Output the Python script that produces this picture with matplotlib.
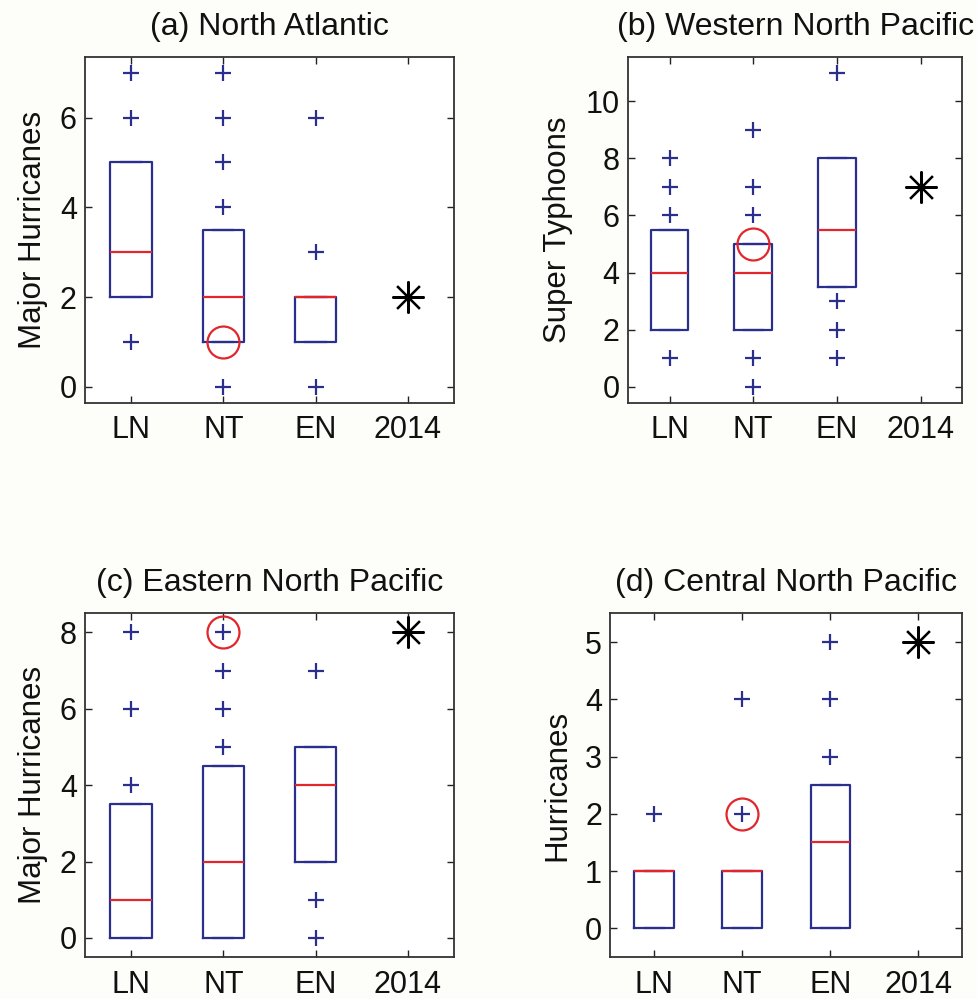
import matplotlib
matplotlib.use("Agg")
import matplotlib.pyplot as plt

plt.rcParams['font.family'] = ['Liberation Sans', 'DejaVu Sans']
plt.rcParams['font.size'] = 20

categories = ['LN', 'NT', 'EN', '2014']

# (a) North Atlantic - major hurricanes
na_q1 = [2, 1, 1]
na_med = [3, 2, 2]
na_q3 = [5, 3.5, 2]
na_fliers = [[1, 6, 7], [0, 4, 5, 6, 7], [0, 3, 6]]
na_2014 = 2
na_circle = ('NT', 1)

# (b) Western North Pacific - super typhoons
wnp_q1 = [2, 2, 3.5]
wnp_med = [4, 4, 5.5]
wnp_q3 = [5.5, 5, 8]
wnp_fliers = [[1, 6, 7, 8], [0, 1, 6, 7, 9], [1, 2, 3, 11]]
wnp_2014 = 7
wnp_circle = ('NT', 5)

# (c) Eastern North Pacific - major hurricanes
enp_q1 = [0, 0, 2]
enp_med = [1, 2, 4]
enp_q3 = [3.5, 4.5, 5]
enp_fliers = [[4, 6, 8], [5, 6, 7, 8], [0, 1, 7]]
enp_2014 = 8
enp_circle = ('NT', 8)

# (d) Central North Pacific - hurricanes
cnp_q1 = [0, 0, 0]
cnp_med = [1, 1, 1.5]
cnp_q3 = [1, 1, 2.5]
cnp_fliers = [[2], [2, 4], [3, 4, 5]]
cnp_2014 = 5
cnp_circle = ('NT', 2)

BLUE = '#2a2f8e'
RED = '#e2262b'

panels = [
    dict(title='(a) North Atlantic', ylabel='Major Hurricanes',
         q1=na_q1, med=na_med, q3=na_q3, fliers=na_fliers, y2014=na_2014, circle=na_circle,
         rect=[0.087, 0.597, 0.377, 0.346], ylim=(-0.35, 7.35), yticks=[0, 2, 4, 6], labx=-0.10),
    dict(title='(b) Western North Pacific', ylabel='Super Typhoons',
         q1=wnp_q1, med=wnp_med, q3=wnp_q3, fliers=wnp_fliers, y2014=wnp_2014, circle=wnp_circle,
         rect=[0.642, 0.597, 0.342, 0.346], ylim=(-0.55, 11.55), yticks=[0, 2, 4, 6, 8, 10], labx=-0.165),
    dict(title='(c) Eastern North Pacific', ylabel='Major Hurricanes',
         q1=enp_q1, med=enp_med, q3=enp_q3, fliers=enp_fliers, y2014=enp_2014, circle=enp_circle,
         rect=[0.087, 0.042, 0.377, 0.344], ylim=(-0.5, 8.5), yticks=[0, 2, 4, 6, 8], labx=-0.10),
    dict(title='(d) Central North Pacific', ylabel='Hurricanes',
         q1=cnp_q1, med=cnp_med, q3=cnp_q3, fliers=cnp_fliers, y2014=cnp_2014, circle=cnp_circle,
         rect=[0.624, 0.042, 0.360, 0.344], ylim=(-0.5, 5.5), yticks=[0, 1, 2, 3, 4, 5], labx=-0.108),
]

fig = plt.figure(figsize=(9.78, 9.99), dpi=100)

for p in panels:
    ax = fig.add_axes(p['rect'])
    stats = []
    for i in range(3):
        # whisker length 0: every point outside the box is drawn as an outlier
        stats.append(dict(q1=p['q1'][i], med=p['med'][i], q3=p['q3'][i],
                          whislo=p['q1'][i], whishi=p['q3'][i], fliers=p['fliers'][i]))
    ax.bxp(stats, positions=[1, 2, 3], widths=0.45, showcaps=True, capwidths=0.22,
           boxprops=dict(color=BLUE, linewidth=1.6),
           whiskerprops=dict(color=BLUE, linewidth=1.6),
           capprops=dict(color=BLUE, linewidth=1.6),
           medianprops=dict(color=RED, linewidth=1.6),
           flierprops=dict(marker='+', markeredgecolor=BLUE, markersize=12,
                           markeredgewidth=1.6, linestyle='none'))

    # 2014 season
    ax.plot([4], [p['y2014']], marker=(8, 2, 0), color='black', markersize=23,
            markeredgewidth=1.6, linestyle='none')

    # 2014 value marked on the neutral-year distribution
    cx = categories.index(p['circle'][0]) + 1
    ax.plot([cx], [p['circle'][1]], marker='o', markerfacecolor='none',
            markeredgecolor=RED, markersize=23, markeredgewidth=1.6, linestyle='none')

    ax.set_xlim(0.5, 4.5)
    ax.set_ylim(*p['ylim'])
    ax.set_xticks([1, 2, 3, 4])
    ax.set_xticklabels(categories)
    ax.set_yticks(p['yticks'])
    ax.tick_params(direction='in', top=True, right=True, length=5, width=1,
                   colors='#222222', labelcolor='#111111', labelsize=22)
    ax.tick_params(axis='x', pad=9)
    ax.tick_params(axis='y', pad=6)
    for s in ax.spines.values():
        s.set_linewidth(1.3)
        s.set_color('#333333')
    ax.set_title(p['title'], pad=16, color='#111111', fontsize=23)
    ax.set_ylabel(p['ylabel'], color='#111111', fontsize=22.5)
    ax.yaxis.set_label_coords(p['labx'], 0.5)

fig.savefig('out.png', dpi=100, facecolor='#fdfdf9')
